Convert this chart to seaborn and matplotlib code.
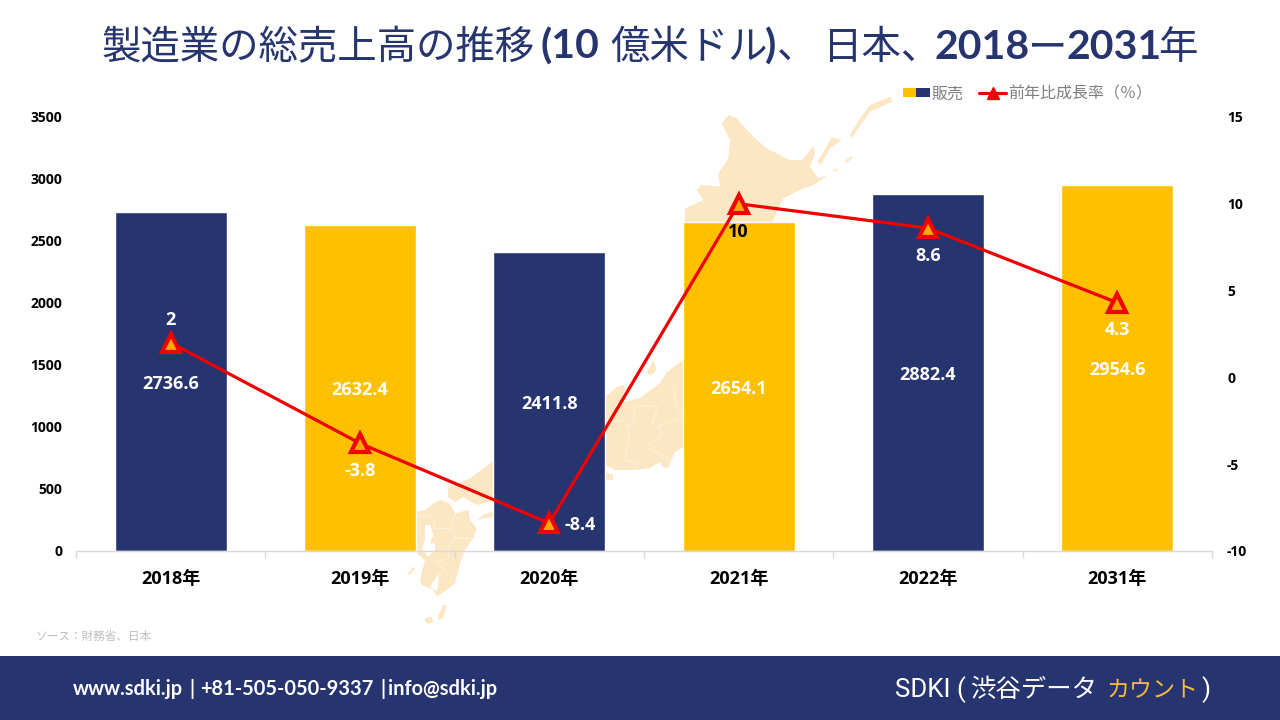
import numpy as np
import pandas as pd
import matplotlib
matplotlib.use("Agg")
import matplotlib.pyplot as plt
from matplotlib.lines import Line2D
from matplotlib.patches import Patch, Polygon, Rectangle
from matplotlib.legend_handler import HandlerTuple
import seaborn as sns

# ---- data ----
years = ["2018年", "2019年", "2020年", "2021年", "2022年", "2031年"]
sales = [2736.6, 2632.4, 2411.8, 2654.1, 2882.4, 2954.6]
growth = [2, -3.8, -8.4, 10, 8.6, 4.3]
growth_labels = ["2", "-3.8", "-8.4", "10", "8.6", "4.3"]
growth_label_offsets = [(0, 23), (0, -28), (31, -2), (0, -28), (0, -28), (0, -27)]
growth_label_colors = ["white", "white", "white", "black", "white", "white"]
left_ticks = [0, 500, 1000, 1500, 2000, 2500, 3000, 3500]
right_ticks = [-10, -5, 0, 5, 10, 15]

NAVY = "#263470"
AMBER = "#FFC000"
RED = "#F00000"
PALE = "#FCE7C4"
bar_colors = [NAVY, AMBER, NAVY, AMBER, NAVY, AMBER]

sns.set_theme(style="white")
FONT = ["Open Sans", "Noto Sans CJK JP", "DejaVu Sans"]
CJK = ["Noto Sans CJK JP", "DejaVu Sans"]
plt.rcParams["font.family"] = FONT

W, H = 1280, 720
fig = plt.figure(figsize=(W / 100, H / 100), dpi=100, facecolor="white")

# ---- background layer in pixel units: map silhouette, banner, captions ----
bg = fig.add_axes([0, 0, 1, 1], zorder=0)
bg.set_xlim(0, W)
bg.set_ylim(H, 0)
bg.axis("off")


def north(points):
    return [(x / 3 + 400, y / 3 + 90) for x, y in points]


def west(points):
    return [(x / 3 + 405, y / 3 + 440) for x, y in points]


def middle(points):
    return [(x / 3 + 600, y / 3 + 340) for x, y in points]


map_shapes = [
    # Hokkaido
    north([(985, 75), (1010, 85), (1060, 140), (1100, 175), (1170, 210), (1205, 210), (1240, 170),
           (1245, 190), (1230, 230), (1255, 265), (1285, 255), (1240, 285), (1200, 300), (1150, 325),
           (1115, 400), (855, 400), (855, 355), (890, 340), (910, 330),
           (890, 300), (905, 285), (960, 290), (955, 250), (985, 205), (990, 150), (965, 100)]),
    # Honshu
    [(700, 222), (765, 222), (780, 300), (760, 400), (683, 447), (675, 452), (668, 468), (663, 467),
     (660, 462), (650, 468), (635, 470), (615, 470), (605, 465), (560, 490), (494, 500), (477, 505),
     (463, 497), (455, 502), (448, 497), (448, 488), (472, 477), (485, 467), (494, 460), (560, 430),
     (605, 397), (617, 387), (624, 385), (625, 390), (620, 403), (640, 398), (660, 383), (667, 372),
     (683, 360), (684, 350), (700, 300)],
    # Small island right of the 2020 bar
    [(605, 472), (613, 475), (613, 480), (605, 480)],
    # Shikoku
    west([(300, 200), (235, 225), (218, 240), (240, 235), (300, 225)]),
    # Kyushu
    west([(33, 215), (60, 210), (85, 190), (105, 180), (135, 190), (150, 220), (190, 210), (195, 240),
          (215, 265), (205, 295), (180, 330), (165, 370), (150, 430), (125, 450), (95, 470), (85, 450),
          (50, 435), (45, 420), (60, 360), (40, 345), (33, 330)]),
    # Sado
    middle([(140, 100), (160, 58), (165, 75), (170, 90), (150, 107)]),
    # Southern islands
    west([(115, 495), (125, 495), (115, 535), (100, 540), (100, 525)]),
    west([(60, 535), (80, 530), (85, 545), (70, 552), (60, 545)]),
    west([(8, 400), (25, 380), (30, 385), (15, 405)]),
    # Kuril islands
    north([(1470, 20), (1478, 35), (1410, 65), (1385, 100), (1355, 145), (1350, 135), (1380, 85), (1410, 45)]),
    north([(1295, 142), (1325, 150), (1290, 175), (1262, 225), (1252, 215), (1280, 170)]),
    north([(1355, 198), (1358, 205), (1338, 218), (1335, 212)]),
    north([(1300, 238), (1315, 236), (1310, 244), (1300, 244)]),
]
for shape in map_shapes:
    bg.add_patch(Polygon(shape, closed=True, fc=PALE, ec="none", zorder=1))

map_borders = [
    middle([(105, 195), (100, 250), (85, 260), (85, 300), (75, 360), (110, 370), (100, 420)]),
    middle([(110, 195), (175, 200), (155, 250), (175, 260), (185, 285), (150, 310), (140, 325), (200, 350), (215, 370)]),
    middle([(175, 260), (250, 235)]),
    middle([(220, 140), (230, 200), (250, 235)]),
    middle([(15, 250), (60, 240), (85, 260)]),
    west([(35, 235), (60, 225), (90, 235), (85, 265), (140, 265), (150, 220)]),
    west([(145, 265), (150, 295), (205, 295)]),
    west([(150, 295), (130, 320), (130, 355), (95, 365), (135, 410)]),
]
for line in map_borders:
    xs, ys = zip(*line)
    bg.plot(xs, ys, color="white", lw=0.5, alpha=0.6, zorder=2)
for bay in [west([(60, 255), (75, 255), (85, 285), (75, 310), (90, 310), (90, 330), (70, 350), (50, 325), (60, 300)]),
            west([(100, 400), (85, 425), (75, 440), (95, 455), (100, 430)])]:
    bg.add_patch(Polygon(bay, closed=True, fc="white", ec="none", zorder=2))

bg.add_patch(Rectangle((0, 656), W, 64, fc=NAVY, ec="none", zorder=3))

TITLE = "#27356F"
LATIN = ["Lato", "DejaVu Sans"]
title_parts = [
    (102, "製造業の総売上高の推移", CJK, "normal", 28.4),
    (540, "(10", LATIN, "bold", 29.5),
    (610, "億米ドル", CJK, "normal", 28.4),
    (765, ")", LATIN, "bold", 29.5),
    (777, "、", CJK, "normal", 28.4),
    (822, "日本、", CJK, "normal", 28.4),
    (934, "2018", LATIN, "bold", 29.5),
    (1028, "ー", CJK, "normal", 28.4),
    (1067, "2031", LATIN, "bold", 29.5),
    (1158, "年", CJK, "normal", 28.4),
]
for x, s, fam, wt, size in title_parts:
    bg.text(x, 59, s, family=fam, weight=wt, fontsize=size, color=TITLE, ha="left", va="baseline", zorder=5)

contact_parts = [(73, "www.sdki.jp"), (189.5, "|"), (200, "+81-505-050-9337"), (380, "|"), (388, "info@sdki.jp")]
for x, s in contact_parts:
    bg.text(x, 695, s, family=LATIN, weight="bold", fontsize=14.4, color="white", ha="left", va="baseline", zorder=5)

brand_parts = [
    (895, "SDKI (", ["Roboto", "DejaVu Sans"], 18.6, "white"),
    (970, "渋谷データ", CJK, 18.3, "white"),
    (1107, "カウント", CJK, 16.6, "#F7B840"),
    (1201, ")", ["Roboto", "DejaVu Sans"], 18.6, "white"),
]
for x, s, fam, size, col in brand_parts:
    bg.text(x, 697, s, family=fam, fontsize=size, color=col, ha="left", va="baseline", zorder=5)

bg.text(36, 636, "ソース：財務省、日本", family=CJK, fontsize=8.4, color="#BFBFBF",
        ha="left", va="center", zorder=5)

# ---- chart ----
ax = fig.add_axes([76 / W, 1 - 551 / H, (1212 - 76) / W, (551 - 117) / H], zorder=2)
ax.patch.set_alpha(0)
df = pd.DataFrame({"year": years, "sales": sales})
sns.barplot(data=df, x="year", y="sales", hue="year", palette=bar_colors, dodge=False,
            width=0.59, saturation=1, legend=False, ax=ax)
ax.set_xlim(-0.5, 5.5)
ax.set_ylim(0, 3500)
ax.set_yticks(left_ticks)
ax.set_xlabel("")
ax.set_ylabel("")
for c in ax.containers:
    for ann in ax.bar_label(c, fmt="%.1f", label_type="center", color="white", fontsize=13, fontweight="bold"):
        ann.xyann = (0, -1.8)
sns.despine(ax=ax, left=True, right=True, top=True)
ax.spines["bottom"].set_color("#D9D9D9")
ax.spines["bottom"].set_linewidth(1)
ax.set_xticks(np.arange(-0.5, 6), minor=True)
ax.tick_params(axis="x", which="minor", length=5, width=1, color="#D9D9D9", bottom=True)
ax.tick_params(axis="x", which="major", length=0, labelsize=13, pad=13.5, labelcolor="black")
ax.tick_params(axis="y", length=0, labelsize=10, pad=10, labelcolor="black")
for lab in ax.get_xticklabels() + ax.get_yticklabels():
    lab.set_fontweight("bold")

ax2 = ax.twinx()
ax2.set_zorder(3)
ax2.patch.set_alpha(0)
sns.lineplot(x=np.arange(len(growth)), y=growth, color=RED, lw=2.3, marker="^", markersize=13,
             markerfacecolor="#FFA800", markeredgecolor=RED, markeredgewidth=3,
             errorbar=None, ax=ax2)
ax2.set_xlim(-0.5, 5.5)
ax2.set_ylim(-10, 15)
ax2.set_yticks(right_ticks)
ax2.set_yticklabels([str(t) for t in right_ticks])
ax2.set_ylabel("")
sns.despine(ax=ax2, left=True, right=True, top=True, bottom=True)
ax2.tick_params(axis="y", length=0, labelsize=10, pad=10.8, labelcolor="black")
for lab in ax2.get_yticklabels():
    lab.set_fontweight("bold")

for i, (g, s, off, col) in enumerate(zip(growth, growth_labels, growth_label_offsets, growth_label_colors)):
    ax2.annotate(s, (i, g), xytext=(off[0] * 0.72, off[1] * 0.72), textcoords="offset points",
                 ha="center", va="center", color=col, fontsize=13, fontweight="bold")

handles = [
    (Patch(fc=AMBER, ec="none"), Patch(fc=NAVY, ec="none")),
    Line2D([], [], color=RED, lw=2.3, marker="^", markersize=8, markerfacecolor=RED, markeredgecolor=RED),
]
leg = ax2.legend(handles, ["販売", "前年比成長率（％）"], handler_map={tuple: HandlerTuple(ndivide=None, pad=0)},
                 loc="center", bbox_to_anchor=(1027.5 / W, 1 - 94 / H), bbox_transform=fig.transFigure,
                 ncol=2, frameon=False, handlelength=1.7, handleheight=0.5,
                 handletextpad=0.12, columnspacing=0.95, labelcolor="#7F7F7F",
                 prop={"family": CJK, "size": 11.5})

fig.savefig("out.png", dpi=100)
